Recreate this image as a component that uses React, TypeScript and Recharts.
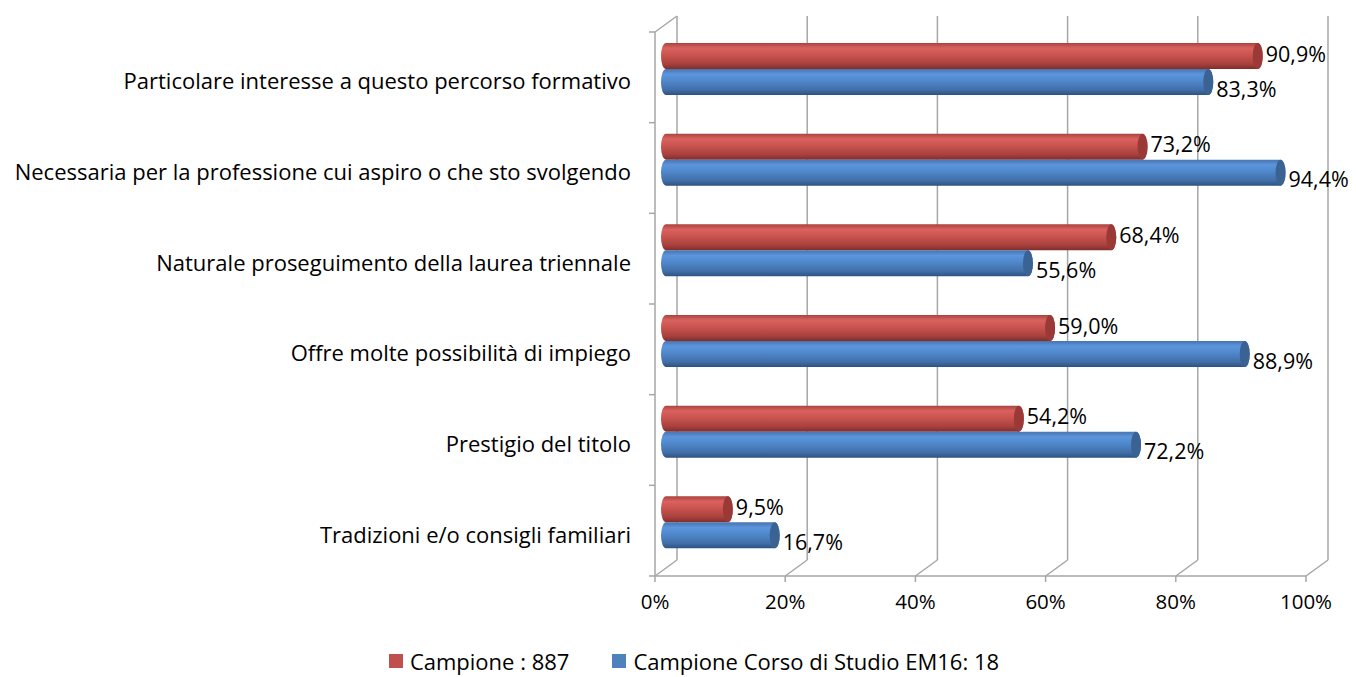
import { Bar, BarChart, CartesianGrid, LabelList, Legend, XAxis, YAxis } from "recharts";

const categories = [
  "Particolare interesse a questo percorso formativo",
  "Necessaria per la professione cui aspiro o che sto svolgendo",
  "Naturale proseguimento della laurea triennale",
  "Offre molte possibilità di impiego",
  "Prestigio del titolo",
  "Tradizioni e/o consigli familiari",
];

const campione = [90.9, 73.2, 68.4, 59.0, 54.2, 9.5];
const corso = [83.3, 94.4, 55.6, 88.9, 72.2, 16.7];

const xTicks = [0, 20, 40, 60, 80, 100];

const seriesNames = ["Campione : 887", "Campione Corso di Studio EM16: 18"];

const data = categories.map((name, i) => ({
  name,
  campione: campione[i],
  corso: corso[i],
}));

const FONT = "'Open Sans', sans-serif";
const FS = 22;
const GRID = "#A6A6A6";
// depth of the pseudo-3D box
const DX = 22;
const DY = 16;

function fmt(v: number) {
  return v.toFixed(1).replace(".", ",") + "%";
}

function makeCylinder(gradId: string, capColor: string) {
  return (props: any) => {
    const { x, y, width, height } = props;
    if (width == null || width <= 0) return <g />;
    const bx = x + DX / 2;
    const by = y - DY / 2;
    const rx = 5;
    const ry = height / 2;
    const cy = by + ry;
    const end = bx + width;
    const d = `M${bx},${by} L${end},${by} A${rx},${ry} 0 0 1 ${end},${by + height} L${bx},${by + height} A${rx},${ry} 0 0 1 ${bx},${by} Z`;
    return (
      <g>
        <path d={d} fill={`url(#${gradId})`} />
        <ellipse cx={end} cy={cy} rx={rx} ry={ry} fill={capColor} />
      </g>
    );
  };
}

function makeLabel(dyShift: number) {
  return (props: any) => {
    const { x, y, width, height, value } = props;
    const tx = x + width + DX / 2 + 8;
    const ty = y - DY / 2 + height / 2 + dyShift;
    return (
      <text x={tx} y={ty} dominantBaseline="central" fontFamily={FONT} fontSize={21.5} fill="#000">
        {fmt(value)}
      </text>
    );
  };
}

function GridLine(props: any) {
  const { x1, y1, y2, index } = props;
  const top = Math.min(y1, y2);
  const bottom = Math.max(y1, y2);
  const x = x1;
  return (
    <g key={`g-${index}`} stroke={GRID} strokeWidth={1.5} fill="none">
      <line x1={x + DX} y1={top - DY} x2={x + DX} y2={bottom - DY} />
      <line x1={x + DX} y1={bottom - DY} x2={x} y2={bottom} />
      {index === 0 && (
        <>
          <line x1={x} y1={top} x2={x + DX} y2={top - DY} />
          <line x1={x} y1={top} x2={x} y2={bottom} />
        </>
      )}
    </g>
  );
}

function CategoryTick(props: any) {
  const { x, y, payload, index } = props;
  const half = payload && payload.offset ? payload.offset : 45.33;
  const axisX = x + 8;
  return (
    <g>
      <line x1={axisX - 6} y1={y - half} x2={axisX} y2={y - half} stroke={GRID} strokeWidth={1.5} />
      {index === categories.length - 1 && (
        <line x1={axisX - 6} y1={y + half} x2={axisX} y2={y + half} stroke={GRID} strokeWidth={1.5} />
      )}
      <text x={axisX - 24} y={y + 3} textAnchor="end" dominantBaseline="central" fontFamily={FONT} fontSize={FS} fill="#000">
        {payload.value}
      </text>
    </g>
  );
}

function LegendContent() {
  const colors = ["#C0504D", "#4F81BD"];
  return (
    <div style={{ display: "flex", justifyContent: "center", fontFamily: FONT, fontSize: 22, lineHeight: "24px", color: "#000", paddingLeft: 82, paddingTop: 2 }}>
      {seriesNames.map((n, i) => (
        <div key={n} style={{ display: "flex", alignItems: "center", marginRight: i === 0 ? 43 : 0 }}>
          <span style={{ width: 14, height: 14, background: colors[i], display: "inline-block", marginRight: 7 }} />
          <span>{n}</span>
        </div>
      ))}
    </div>
  );
}

export default function App() {
  return (
    <div style={{ position: "absolute", left: 0, top: 0, background: "#fff" }}>
      <BarChart
        width={1356}
        height={677}
        data={data}
        layout="vertical"
        margin={{ top: 32, right: 50, bottom: 0, left: 0 }}
        barGap={0}
        barSize={26}
      >
        <defs>
          <linearGradient id="redCyl" x1="0" y1="0" x2="0" y2="1">
            <stop offset="0" stopColor="#A9433F" />
            <stop offset="0.2" stopColor="#DA625E" />
            <stop offset="0.45" stopColor="#CC5450" />
            <stop offset="0.8" stopColor="#A8413E" />
            <stop offset="1" stopColor="#7E2E2C" />
          </linearGradient>
          <linearGradient id="blueCyl" x1="0" y1="0" x2="0" y2="1">
            <stop offset="0" stopColor="#4774AE" />
            <stop offset="0.2" stopColor="#5C95DC" />
            <stop offset="0.45" stopColor="#5088CC" />
            <stop offset="0.8" stopColor="#416FA8" />
            <stop offset="1" stopColor="#2E5282" />
          </linearGradient>
        </defs>
        <CartesianGrid horizontal={false} vertical={GridLine} />
        <XAxis
          type="number"
          domain={[0, 100]}
          ticks={xTicks}
          tickFormatter={(v) => `${v}%`}
          tick={{ fontSize: 20.5, fill: "#000", fontFamily: FONT }}
          axisLine={{ stroke: GRID, strokeWidth: 1.5 }}
          tickLine={{ stroke: GRID, strokeWidth: 1.5 }}
          tickSize={6}
          tickMargin={12}
          height={71}
          interval={0}
        />
        <YAxis
          type="category"
          dataKey="name"
          width={655}
          axisLine={false}
          tickLine={false}
          tick={CategoryTick}
          interval={0}
        />
        <Legend verticalAlign="bottom" height={30} content={LegendContent} />
        <Bar dataKey="campione" name={seriesNames[0]} shape={makeCylinder("redCyl", "#9A3936")} isAnimationActive={false}>
          <LabelList dataKey="campione" content={makeLabel(-3)} />
        </Bar>
        <Bar dataKey="corso" name={seriesNames[1]} shape={makeCylinder("blueCyl", "#3A6394")} isAnimationActive={false}>
          <LabelList dataKey="corso" content={makeLabel(6)} />
        </Bar>
      </BarChart>
    </div>
  );
}
